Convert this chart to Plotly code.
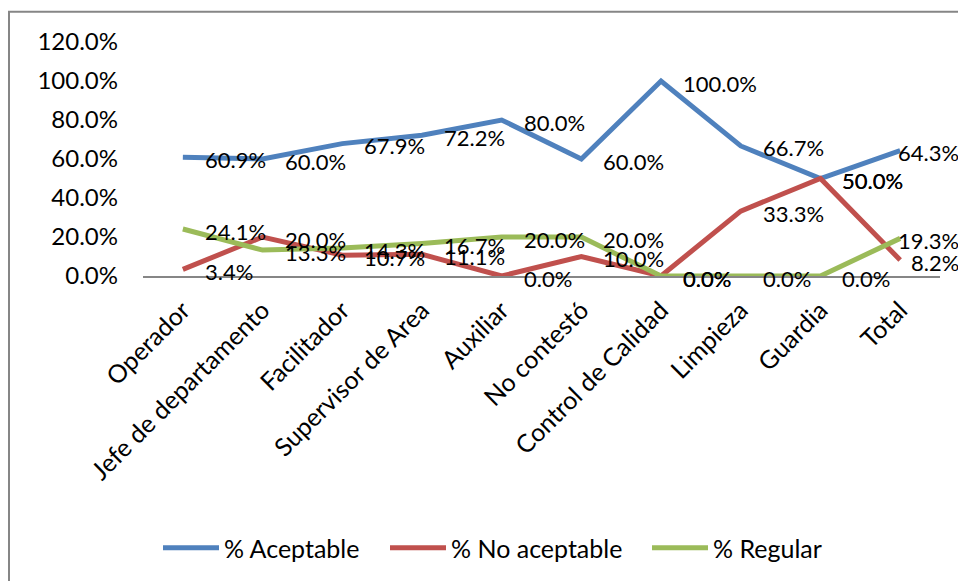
import plotly.graph_objects as go

categories = ["Operador", "Jefe de departamento", "Facilitador", "Supervisor de Area",
              "Auxiliar", "No contestó", "Control de Calidad", "Limpieza", "Guardia", "Total"]
aceptable = [60.9, 60.0, 67.9, 72.2, 80.0, 60.0, 100.0, 66.7, 50.0, 64.3]
no_aceptable = [3.4, 20.0, 10.7, 11.1, 0.0, 10.0, 0.0, 33.3, 50.0, 8.2]
regular = [24.1, 13.3, 14.3, 16.7, 20.0, 20.0, 0.0, 0.0, 0.0, 19.3]
y_ticks = [0, 20, 40, 60, 80, 100, 120]

series = [
    ("% Aceptable", aceptable, "#4F81BD", "legend"),
    ("% No aceptable", no_aceptable, "#C0504D", "legend2"),
    ("% Regular", regular, "#9BBB59", "legend3"),
]

FONT = "Lato, Carlito, Calibri, sans-serif"
# page body has an 8px margin; plot area target (window px): x 143..940, y 42..277
OFF = 8
W, H = 966 - OFF, 581 - OFF
X0, X1, Y0, Y1 = 143, 940, 42, 277
ML, MR, MT, MB = X0 - OFF, W - (X1 - OFF), Y0 - OFF, H - (Y1 - OFF)
PW, PH = X1 - X0, Y1 - Y0

def px_x(px):
    return (px - X0) / PW

def px_y(py):
    return (Y1 - py) / PH

fig = go.Figure()
annotations = []
for name, vals, color, lg in series:
    fig.add_trace(go.Scatter(
        x=categories, y=vals, name=name, mode="lines",
        line=dict(color=color, width=5),
        legend=lg,
    ))
last = categories[-1]
for name, vals, color, lg in series:
    for c, v in zip(categories, vals):
        is_last = c == last
        annotations.append(dict(
            x=c, y=v, xref="x", yref="y", text=f"{v:.1f}%",
            showarrow=False, xanchor="right" if is_last else "left",
            yanchor="middle",
            xshift=61 if is_last else 20, yshift=-2,
            font=dict(family=FONT, size=22, color="black"),
        ))

legend_common = dict(
    orientation="h", yanchor="middle", xanchor="left",
    font=dict(family=FONT, size=25, color="black"),
    bgcolor="rgba(0,0,0,0)", itemwidth=56,
)
layout_legends = {}
for (name, vals, color, lg), lx in zip(series, [158, 385, 647]):
    layout_legends[lg] = dict(legend_common, x=px_x(lx), y=px_y(548))

fig.update_layout(
    width=W, height=H,
    margin=dict(l=ML, r=MR, t=MT, b=MB),
    paper_bgcolor="white", plot_bgcolor="white",
    font=dict(family=FONT, size=22, color="black"),
    showlegend=True,
    annotations=annotations,
    xaxis=dict(
        type="category", range=[-0.5, len(categories) - 0.5],
        tickangle=-45, showgrid=False, zeroline=False,
        showline=True, linecolor="#868686", linewidth=1.5,
        ticks="", ticklabelstandoff=8,
        tickfont=dict(family=FONT, size=25, color="black"),
    ),
    yaxis=dict(
        range=[0, 120], tickvals=y_ticks,
        ticktext=[f"{t:.1f}%" for t in y_ticks],
        showgrid=False, zeroline=False, showline=False,
        ticks="", ticklabelstandoff=24,
        tickfont=dict(family=FONT, size=24, color="black"),
    ),
    shapes=[dict(
        type="rect", xref="paper", yref="paper",
        x0=px_x(9), x1=px_x(990), y0=px_y(610), y1=px_y(11.5),
        line=dict(color="#868686", width=2), fillcolor="rgba(0,0,0,0)",
        layer="below",
    )],
    **layout_legends,
)

fig.write_html("out.html")
